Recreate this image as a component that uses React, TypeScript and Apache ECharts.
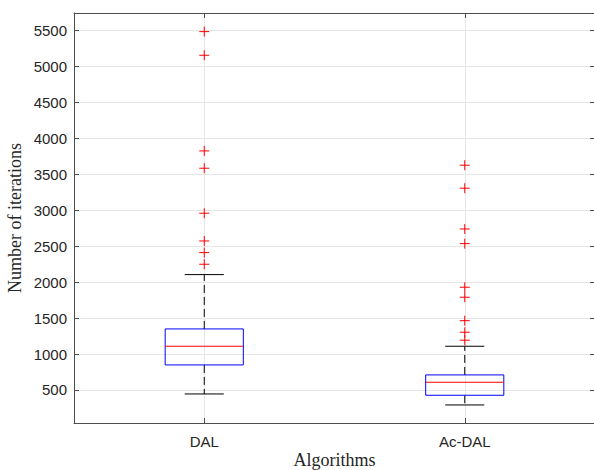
import React, { useEffect, useRef } from "react";
import * as echarts from "echarts";

const categories = ["DAL", "Ac-DAL"];
const lowerWhisker = [444, 291];
const q1 = [848, 426];
const median = [1108, 607];
const q3 = [1349, 709];
const upperWhisker = [2105, 1108];
const dalOutliers = [2249, 2411, 2573, 2959, 3585, 3826, 5157, 5486];
const acDalOutliers = [1192, 1303, 1464, 1790, 1929, 2536, 2740, 3307, 3627];
const yTicks = [500, 1000, 1500, 2000, 2500, 3000, 3500, 4000, 4500, 5000, 5500];
const xTicks = [1, 2];

const Y_MIN = 40;
const Y_MAX = 5745;

export default function App() {
  const ref = useRef<HTMLDivElement>(null);
  useEffect(() => {
    if (!ref.current) return;
    const chart = echarts.init(ref.current, null, { renderer: "svg" });

    const boxData = categories.map((_, i) => [
      i + 1,
      lowerWhisker[i],
      q1[i],
      median[i],
      q3[i],
      upperWhisker[i],
    ]);
    const outlierData: number[][] = [];
    dalOutliers.forEach((v) => outlierData.push([1, v]));
    acDalOutliers.forEach((v) => outlierData.push([2, v]));

    const axisColor = "#4d4d4d";
    const textColor = "#262626";
    const gridColor = "#e6e6e6";
    const sans = "'Liberation Sans', Arial, Helvetica, sans-serif";
    const serif = "'Liberation Serif', 'Times New Roman', serif";

    const baseX = {
      type: "value" as const,
      min: 0.5,
      max: 2.5,
    };
    const baseY = {
      type: "value" as const,
      min: Y_MIN,
      max: Y_MAX,
    };

    chart.setOption({
      animation: false,
      backgroundColor: "#ffffff",
      grid: {
        left: 74,
        top: 13,
        width: 521,
        height: 410,
        containLabel: false,
        outerBoundsMode: "none",
      },
      xAxis: [
        {
          ...baseX,
          position: "bottom",
          name: "Algorithms",
          nameLocation: "middle",
          nameGap: 28,
          nameMoveOverlap: false,
          nameTextStyle: { fontFamily: serif, fontSize: 18, color: textColor },
          axisLine: { show: true, onZero: false, lineStyle: { color: axisColor, width: 1 } },
          axisTick: { show: true, inside: true, length: 5, customValues: xTicks, lineStyle: { color: axisColor } },
          axisLabel: {
            customValues: xTicks,
            margin: 11,
            fontFamily: sans,
            fontSize: 15,
            color: textColor,
            formatter: (v: number) => categories[Math.round(v) - 1] ?? "",
          },
          splitLine: { show: true, lineStyle: { color: gridColor, width: 1 } },
        },
        {
          ...baseX,
          position: "top",
          axisLine: { show: true, onZero: false, lineStyle: { color: axisColor, width: 1 } },
          axisTick: { show: true, inside: true, length: 5, customValues: xTicks, lineStyle: { color: axisColor } },
          axisLabel: { show: false },
          splitLine: { show: false },
        },
      ],
      yAxis: [
        {
          ...baseY,
          position: "left",
          name: "Number of iterations",
          nameLocation: "middle",
          nameGap: 50,
          nameMoveOverlap: false,
          nameTextStyle: { fontFamily: serif, fontSize: 18, color: textColor },
          axisLine: { show: true, onZero: false, lineStyle: { color: axisColor, width: 1 } },
          axisTick: { show: true, inside: true, length: 5, customValues: yTicks, lineStyle: { color: axisColor } },
          axisLabel: {
            customValues: yTicks,
            margin: 7,
            fontFamily: sans,
            fontSize: 15,
            color: textColor,
            formatter: (v: number) => String(Math.round(v)),
          },
          splitLine: { show: true, lineStyle: { color: gridColor, width: 1 } },
        },
        {
          ...baseY,
          position: "right",
          axisLine: { show: true, onZero: false, lineStyle: { color: axisColor, width: 1 } },
          axisTick: { show: true, inside: true, length: 5, customValues: yTicks, lineStyle: { color: axisColor } },
          axisLabel: { show: false },
          splitLine: { show: false },
        },
      ],
      series: [
        {
          type: "custom",
          xAxisIndex: 0,
          yAxisIndex: 0,
          z: 2,
          data: boxData,
          encode: { x: 0, y: [1, 2, 3, 4, 5] },
          renderItem: (params: any, api: any) => {
            const x = api.value(0);
            const low = api.coord([x, api.value(1)]);
            const p1 = api.coord([x, api.value(2)]);
            const pm = api.coord([x, api.value(3)]);
            const p3 = api.coord([x, api.value(4)]);
            const high = api.coord([x, api.value(5)]);
            const unit = api.size([1, 0])[0];
            const bh = unit * 0.15;
            const ch = unit * 0.075;
            const cx = low[0];
            const dash = { stroke: "#000000", lineWidth: 1, lineDash: [8, 4] };
            const solid = { stroke: "#000000", lineWidth: 1 };
            return {
              type: "group",
              children: [
                { type: "line", shape: { x1: cx, y1: p3[1], x2: cx, y2: high[1] }, style: dash },
                { type: "line", shape: { x1: cx, y1: p1[1], x2: cx, y2: low[1] }, style: dash },
                { type: "line", shape: { x1: cx - ch, y1: high[1], x2: cx + ch, y2: high[1] }, style: solid },
                { type: "line", shape: { x1: cx - ch, y1: low[1], x2: cx + ch, y2: low[1] }, style: solid },
                {
                  type: "rect",
                  shape: { x: cx - bh, y: p3[1], width: bh * 2, height: p1[1] - p3[1] },
                  style: { fill: "none", stroke: "#0000ff", lineWidth: 1 },
                },
                {
                  type: "line",
                  shape: { x1: cx - bh, y1: pm[1], x2: cx + bh, y2: pm[1] },
                  style: { stroke: "#ff0000", lineWidth: 1 },
                },
              ],
            };
          },
        },
        {
          type: "scatter",
          xAxisIndex: 0,
          yAxisIndex: 0,
          z: 3,
          data: outlierData,
          symbol: "path://M0,5L10,5M5,0L5,10",
          symbolSize: 10,
          itemStyle: { color: "none", borderColor: "#ff0000", borderWidth: 1, opacity: 1 },
          emphasis: { disabled: true },
        },
      ],
    });
    return () => chart.dispose();
  }, []);
  return (
    <div
      ref={ref}
      style={{ position: "absolute", left: 0, top: 0, width: 594, height: 470 }}
    />
  );
}
